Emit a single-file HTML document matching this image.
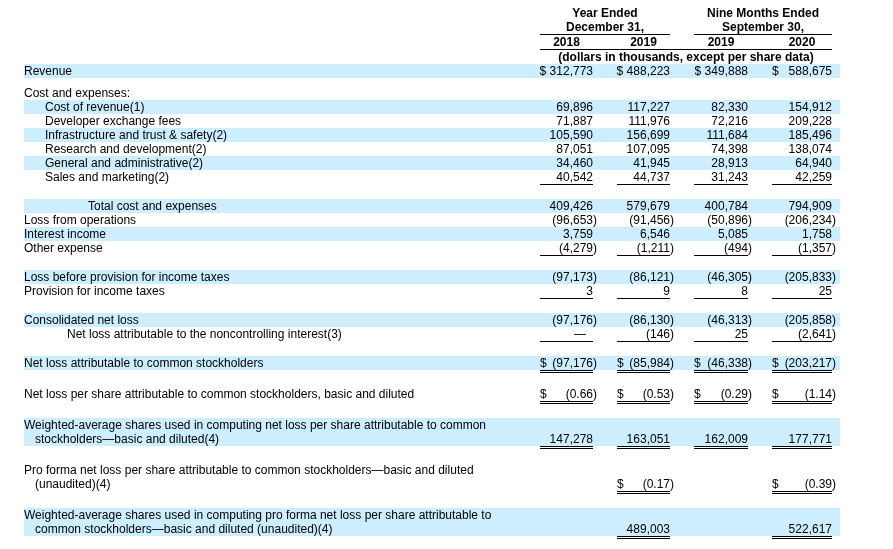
<!DOCTYPE html>
<html><head><meta charset="utf-8"><style>
html,body{margin:0;padding:0;background:#fff;overflow:hidden;}
body{width:893px;height:549px;position:relative;overflow:hidden;font-family:"Liberation Sans",sans-serif;font-size:12px;line-height:14px;color:#000;}
.b{position:absolute;background:#cceeff;}
.l{position:absolute;background:#000;}
.t{position:absolute;white-space:nowrap;}
#w{position:absolute;left:0;top:0;width:893px;height:549px;overflow:hidden;will-change:transform;}
.bd{font-weight:bold;}
.rp{position:absolute;left:100%;top:0;}
</style></head><body><div id="w">
<div class="t bd" style="top:6px;left:405px;width:400px;text-align:center;">Year Ended</div>
<div class="t bd" style="top:20px;left:405px;width:400px;text-align:center;">December 31,</div>
<div class="l" style="top:34px;left:540px;width:130px;height:1px"></div>
<div class="t bd" style="top:6px;left:563px;width:400px;text-align:center;">Nine Months Ended</div>
<div class="t bd" style="top:20px;left:563px;width:400px;text-align:center;">September 30,</div>
<div class="l" style="top:34px;left:694px;width:138px;height:1px"></div>
<div class="t bd" style="top:35px;left:366.5px;width:400px;text-align:center;">2018</div>
<div class="t bd" style="top:35px;left:443.5px;width:400px;text-align:center;">2019</div>
<div class="t bd" style="top:35px;left:521.0px;width:400px;text-align:center;">2019</div>
<div class="t bd" style="top:35px;left:602.0px;width:400px;text-align:center;">2020</div>
<div class="l" style="top:49px;left:540px;width:292px;height:1px"></div>
<div class="t bd" style="top:50px;left:486px;width:400px;text-align:center;">(dollars in thousands, except per share data)</div>
<div class="b" style="top:64px;height:14px;left:24px;width:816px"></div>
<div class="t" style="top:63.7px;left:24px;">Revenue</div>
<div class="t" style="top:63.7px;right:300px;">$ 312,773</div>
<div class="t" style="top:63.7px;right:223px;">$ 488,223</div>
<div class="t" style="top:63.7px;right:145px;">$ 349,888</div>
<div class="t" style="top:63.7px;right:61px;">588,675</div>
<div class="t" style="top:63.7px;left:772px;">$</div>
<div class="t" style="top:85.7px;left:24px;">Cost and expenses:</div>
<div class="b" style="top:100px;height:14px;left:24px;width:816px"></div>
<div class="t" style="top:99.7px;left:45px;">Cost of revenue(1)</div>
<div class="t" style="top:99.7px;right:300px;">69,896</div>
<div class="t" style="top:99.7px;right:223px;">117,227</div>
<div class="t" style="top:99.7px;right:145px;">82,330</div>
<div class="t" style="top:99.7px;right:61px;">154,912</div>
<div class="t" style="top:113.7px;left:45px;">Developer exchange fees</div>
<div class="t" style="top:113.7px;right:300px;">71,887</div>
<div class="t" style="top:113.7px;right:223px;">111,976</div>
<div class="t" style="top:113.7px;right:145px;">72,216</div>
<div class="t" style="top:113.7px;right:61px;">209,228</div>
<div class="b" style="top:128px;height:14px;left:24px;width:816px"></div>
<div class="t" style="top:127.69999999999999px;left:45px;">Infrastructure and trust &amp; safety(2)</div>
<div class="t" style="top:127.69999999999999px;right:300px;">105,590</div>
<div class="t" style="top:127.69999999999999px;right:223px;">156,699</div>
<div class="t" style="top:127.69999999999999px;right:145px;">111,684</div>
<div class="t" style="top:127.69999999999999px;right:61px;">185,496</div>
<div class="t" style="top:141.7px;left:45px;">Research and development(2)</div>
<div class="t" style="top:141.7px;right:300px;">87,051</div>
<div class="t" style="top:141.7px;right:223px;">107,095</div>
<div class="t" style="top:141.7px;right:145px;">74,398</div>
<div class="t" style="top:141.7px;right:61px;">138,074</div>
<div class="b" style="top:156px;height:14px;left:24px;width:816px"></div>
<div class="t" style="top:155.7px;left:45px;">General and administrative(2)</div>
<div class="t" style="top:155.7px;right:300px;">34,460</div>
<div class="t" style="top:155.7px;right:223px;">41,945</div>
<div class="t" style="top:155.7px;right:145px;">28,913</div>
<div class="t" style="top:155.7px;right:61px;">64,940</div>
<div class="t" style="top:169.7px;left:45px;">Sales and marketing(2)</div>
<div class="t" style="top:169.7px;right:300px;">40,542</div>
<div class="t" style="top:169.7px;right:223px;">44,737</div>
<div class="t" style="top:169.7px;right:145px;">31,243</div>
<div class="t" style="top:169.7px;right:61px;">42,259</div>
<div class="l" style="top:184px;left:540px;width:53px;height:1px"></div>
<div class="l" style="top:184px;left:617px;width:53px;height:1px"></div>
<div class="l" style="top:184px;left:694px;width:54px;height:1px"></div>
<div class="l" style="top:184px;left:772px;width:60px;height:1px"></div>
<div class="b" style="top:199px;height:14px;left:24px;width:816px"></div>
<div class="t" style="top:198.7px;left:88px;">Total cost and expenses</div>
<div class="t" style="top:198.7px;right:300px;">409,426</div>
<div class="t" style="top:198.7px;right:223px;">579,679</div>
<div class="t" style="top:198.7px;right:145px;">400,784</div>
<div class="t" style="top:198.7px;right:61px;">794,909</div>
<div class="t" style="top:212.7px;left:24px;">Loss from operations</div>
<div class="t" style="top:212.7px;right:300px">(96,653<span class="rp">)</span></div>
<div class="t" style="top:212.7px;right:223px">(91,456<span class="rp">)</span></div>
<div class="t" style="top:212.7px;right:145px">(50,896<span class="rp">)</span></div>
<div class="t" style="top:212.7px;right:61px">(206,234<span class="rp">)</span></div>
<div class="b" style="top:227px;height:14px;left:24px;width:816px"></div>
<div class="t" style="top:226.7px;left:24px;">Interest income</div>
<div class="t" style="top:226.7px;right:300px;">3,759</div>
<div class="t" style="top:226.7px;right:223px;">6,546</div>
<div class="t" style="top:226.7px;right:145px;">5,085</div>
<div class="t" style="top:226.7px;right:61px;">1,758</div>
<div class="t" style="top:240.7px;left:24px;">Other expense</div>
<div class="t" style="top:240.7px;right:300px">(4,279<span class="rp">)</span></div>
<div class="t" style="top:240.7px;right:223px">(1,211<span class="rp">)</span></div>
<div class="t" style="top:240.7px;right:145px">(494<span class="rp">)</span></div>
<div class="t" style="top:240.7px;right:61px">(1,357<span class="rp">)</span></div>
<div class="l" style="top:255px;left:540px;width:53px;height:1px"></div>
<div class="l" style="top:255px;left:617px;width:53px;height:1px"></div>
<div class="l" style="top:255px;left:694px;width:54px;height:1px"></div>
<div class="l" style="top:255px;left:772px;width:60px;height:1px"></div>
<div class="b" style="top:270px;height:14px;left:24px;width:816px"></div>
<div class="t" style="top:269.7px;left:24px;">Loss before provision for income taxes</div>
<div class="t" style="top:269.7px;right:300px">(97,173<span class="rp">)</span></div>
<div class="t" style="top:269.7px;right:223px">(86,121<span class="rp">)</span></div>
<div class="t" style="top:269.7px;right:145px">(46,305<span class="rp">)</span></div>
<div class="t" style="top:269.7px;right:61px">(205,833<span class="rp">)</span></div>
<div class="t" style="top:283.7px;left:24px;">Provision for income taxes</div>
<div class="t" style="top:283.7px;right:300px;">3</div>
<div class="t" style="top:283.7px;right:223px;">9</div>
<div class="t" style="top:283.7px;right:145px;">8</div>
<div class="t" style="top:283.7px;right:61px;">25</div>
<div class="l" style="top:298px;left:540px;width:53px;height:1px"></div>
<div class="l" style="top:298px;left:617px;width:53px;height:1px"></div>
<div class="l" style="top:298px;left:694px;width:54px;height:1px"></div>
<div class="l" style="top:298px;left:772px;width:60px;height:1px"></div>
<div class="b" style="top:313px;height:14px;left:24px;width:816px"></div>
<div class="t" style="top:312.7px;left:24px;">Consolidated net loss</div>
<div class="t" style="top:312.7px;right:300px">(97,176<span class="rp">)</span></div>
<div class="t" style="top:312.7px;right:223px">(86,130<span class="rp">)</span></div>
<div class="t" style="top:312.7px;right:145px">(46,313<span class="rp">)</span></div>
<div class="t" style="top:312.7px;right:61px">(205,858<span class="rp">)</span></div>
<div class="t" style="top:326.7px;left:67px;">Net loss attributable to the noncontrolling interest(3)</div>
<div class="t" style="top:326.7px;right:223px">(146<span class="rp">)</span></div>
<div class="t" style="top:326.7px;right:145px;">25</div>
<div class="t" style="top:326.7px;right:61px">(2,641<span class="rp">)</span></div>
<div class="l" style="top:341px;left:540px;width:53px;height:1px"></div>
<div class="l" style="top:341px;left:617px;width:53px;height:1px"></div>
<div class="l" style="top:341px;left:694px;width:54px;height:1px"></div>
<div class="l" style="top:341px;left:772px;width:60px;height:1px"></div>
<div class="t" style="top:326.7px;right:307px;">&#8212;</div>
<div class="b" style="top:356px;height:14px;left:24px;width:816px"></div>
<div class="t" style="top:355.7px;left:24px;">Net loss attributable to common stockholders</div>
<div class="t" style="top:355.7px;right:300px">(97,176<span class="rp">)</span></div>
<div class="t" style="top:355.7px;left:540px;">$</div>
<div class="t" style="top:355.7px;right:223px">(85,984<span class="rp">)</span></div>
<div class="t" style="top:355.7px;left:617px;">$</div>
<div class="t" style="top:355.7px;right:145px">(46,338<span class="rp">)</span></div>
<div class="t" style="top:355.7px;left:694px;">$</div>
<div class="t" style="top:355.7px;right:61px">(203,217<span class="rp">)</span></div>
<div class="t" style="top:355.7px;left:772px;">$</div>
<div class="l" style="top:370px;left:540px;width:53px;height:1px"></div>
<div class="l" style="top:372px;left:540px;width:53px;height:1px"></div>
<div class="l" style="top:370px;left:617px;width:53px;height:1px"></div>
<div class="l" style="top:372px;left:617px;width:53px;height:1px"></div>
<div class="l" style="top:370px;left:694px;width:54px;height:1px"></div>
<div class="l" style="top:372px;left:694px;width:54px;height:1px"></div>
<div class="l" style="top:370px;left:772px;width:60px;height:1px"></div>
<div class="l" style="top:372px;left:772px;width:60px;height:1px"></div>
<div class="t" style="top:386.7px;left:24px;">Net loss per share attributable to common stockholders, basic and diluted</div>
<div class="t" style="top:386.7px;right:300px">(0.66<span class="rp">)</span></div>
<div class="t" style="top:386.7px;left:540px;">$</div>
<div class="t" style="top:386.7px;right:223px">(0.53<span class="rp">)</span></div>
<div class="t" style="top:386.7px;left:617px;">$</div>
<div class="t" style="top:386.7px;right:145px">(0.29<span class="rp">)</span></div>
<div class="t" style="top:386.7px;left:694px;">$</div>
<div class="t" style="top:386.7px;right:61px">(1.14<span class="rp">)</span></div>
<div class="t" style="top:386.7px;left:772px;">$</div>
<div class="l" style="top:401px;left:540px;width:53px;height:1px"></div>
<div class="l" style="top:403px;left:540px;width:53px;height:1px"></div>
<div class="l" style="top:401px;left:617px;width:53px;height:1px"></div>
<div class="l" style="top:403px;left:617px;width:53px;height:1px"></div>
<div class="l" style="top:401px;left:694px;width:54px;height:1px"></div>
<div class="l" style="top:403px;left:694px;width:54px;height:1px"></div>
<div class="l" style="top:401px;left:772px;width:60px;height:1px"></div>
<div class="l" style="top:403px;left:772px;width:60px;height:1px"></div>
<div class="b" style="top:418px;height:28px;left:24px;width:816px"></div>
<div class="t" style="top:417.7px;left:24px;">Weighted-average shares used in computing net loss per share attributable to common</div>
<div class="t" style="top:431.7px;left:35px;">stockholders&#8212;basic and diluted(4)</div>
<div class="t" style="top:431.7px;right:300px;">147,278</div>
<div class="t" style="top:431.7px;right:223px;">163,051</div>
<div class="t" style="top:431.7px;right:145px;">162,009</div>
<div class="t" style="top:431.7px;right:61px;">177,771</div>
<div class="l" style="top:446px;left:540px;width:53px;height:1px"></div>
<div class="l" style="top:448px;left:540px;width:53px;height:1px"></div>
<div class="l" style="top:446px;left:617px;width:53px;height:1px"></div>
<div class="l" style="top:448px;left:617px;width:53px;height:1px"></div>
<div class="l" style="top:446px;left:694px;width:54px;height:1px"></div>
<div class="l" style="top:448px;left:694px;width:54px;height:1px"></div>
<div class="l" style="top:446px;left:772px;width:60px;height:1px"></div>
<div class="l" style="top:448px;left:772px;width:60px;height:1px"></div>
<div class="t" style="top:462.7px;left:24px;">Pro forma net loss per share attributable to common stockholders&#8212;basic and diluted</div>
<div class="t" style="top:476.7px;left:35px;">(unaudited)(4)</div>
<div class="t" style="top:476.7px;right:223px">(0.17<span class="rp">)</span></div>
<div class="t" style="top:476.7px;left:617px;">$</div>
<div class="t" style="top:476.7px;right:61px">(0.39<span class="rp">)</span></div>
<div class="t" style="top:476.7px;left:772px;">$</div>
<div class="l" style="top:491px;left:617px;width:53px;height:1px"></div>
<div class="l" style="top:493px;left:617px;width:53px;height:1px"></div>
<div class="l" style="top:491px;left:772px;width:60px;height:1px"></div>
<div class="l" style="top:493px;left:772px;width:60px;height:1px"></div>
<div class="b" style="top:508px;height:28px;left:24px;width:816px"></div>
<div class="t" style="top:507.70000000000005px;left:24px;">Weighted-average shares used in computing pro forma net loss per share attributable to</div>
<div class="t" style="top:521.7px;left:35px;">common stockholders&#8212;basic and diluted (unaudited)(4)</div>
<div class="t" style="top:521.7px;right:223px;">489,003</div>
<div class="t" style="top:521.7px;right:61px;">522,617</div>
<div class="l" style="top:536px;left:617px;width:53px;height:1px"></div>
<div class="l" style="top:538px;left:617px;width:53px;height:1px"></div>
<div class="l" style="top:536px;left:772px;width:60px;height:1px"></div>
<div class="l" style="top:538px;left:772px;width:60px;height:1px"></div>
</div></body></html>
